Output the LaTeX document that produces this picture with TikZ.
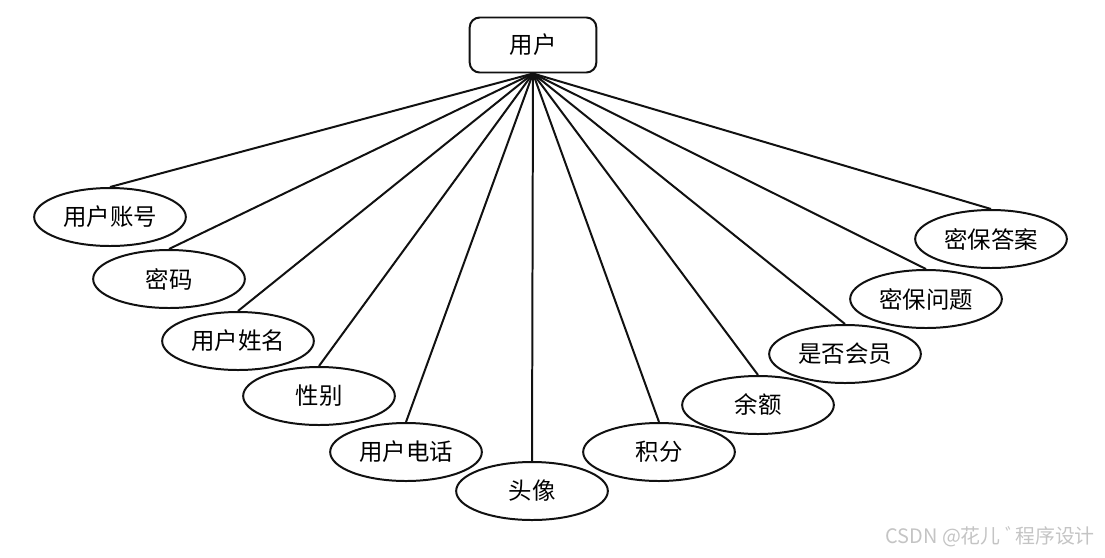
\documentclass[tikz,border=0pt]{standalone}
\usepackage{fontspec}
\usepackage{tikz}
\usetikzlibrary{shapes.geometric}
\setmainfont{Noto Sans CJK SC}
\definecolor{ink}{HTML}{111111}
\definecolor{wmark}{HTML}{C4C4C4}

\begin{document}
\begin{tikzpicture}[x=0.03cm,y=-0.03cm,
  entity/.style={draw=ink,line width=1.7pt,rounded corners=0.3cm,minimum width=3.8cm,minimum height=1.65cm,inner sep=0pt,font=\fontsize{20}{24}\selectfont},
  attr/.style={draw=ink,ellipse,line width=1.7pt,minimum width=4.55cm,minimum height=1.74cm,inner sep=0pt,font=\fontsize{20}{24}\selectfont}]
  \useasboundingbox (0,0) rectangle (1105,557);
  \node[entity] (user) at (533,45) {用户};
  \foreach \n/\x/\y/\t in {acct/110/217/用户账号,pwd/169/279/密码,uname/238/341/用户姓名,sex/319/396/性别,phone/406/452/用户电话,avatar/532/491/头像,points/659/452/积分,balance/758/405/余额,member/845/354/是否会员,question/926/299/密保问题,answer/991/239/密保答案} { \node[attr] (\n) at (\x,\y) {\t}; \draw[ink,line width=1.7pt] (user.south) -- (\n.north); }
  \node[anchor=east,font=\fontsize{17}{20}\selectfont\color{wmark}] (mark) at (1099,537) {CSDN @花儿 ﾞ程序设计};
\end{tikzpicture}
\end{document}
